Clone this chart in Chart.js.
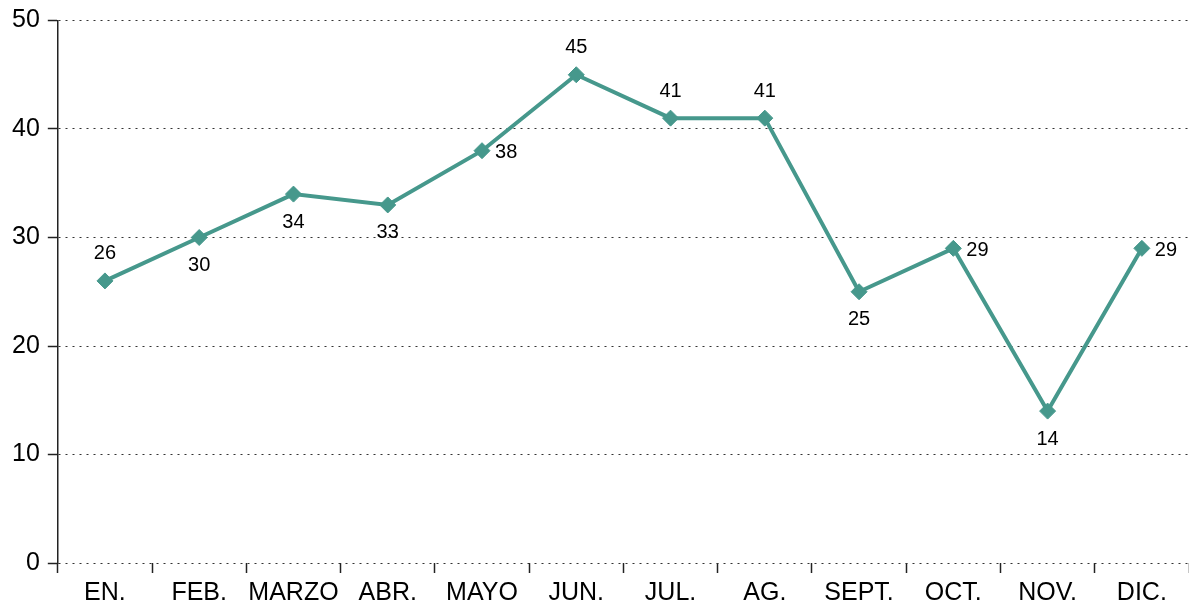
<!DOCTYPE html>
<html lang="es">
<head>
<meta charset="utf-8">
<script src="https://cdn.jsdelivr.net/npm/chart.js@4/dist/chart.umd.min.js"></script>
<style>
  html, body { margin: 0; padding: 0; background: #fff; }
  #wrap { width: 1189px; height: 604px; }
</style>
</head>
<body>
<div id="wrap"><canvas id="lineaMensual"></canvas></div>
<script>
// Datos mensuales
const meses = ['EN.', 'FEB.', 'MARZO', 'ABR.', 'MAYO', 'JUN.', 'JUL.', 'AG.', 'SEPT.', 'OCT.', 'NOV.', 'DIC.'];
const valores = [26, 30, 34, 33, 38, 45, 41, 41, 25, 29, 14, 29];
const ticksY = [0, 10, 20, 30, 40, 50];

// Posición de cada etiqueta respecto al punto
const posEtiqueta = ['top', 'bottom', 'bottom', 'bottom', 'right', 'top', 'top', 'top', 'bottom', 'right', 'bottom', 'right'];

const colorLinea = '#46988c';
const fuente = '"Liberation Sans", Arial, sans-serif';

// Plugin sencillo para escribir el valor junto a cada punto
const etiquetasValor = {
    id: 'etiquetasValor',
    afterDatasetsDraw(chart) {
        const ctx = chart.ctx;
        const meta = chart.getDatasetMeta(0);
        ctx.save();
        ctx.font = '20px ' + fuente;
        ctx.fillStyle = '#000';
        meta.data.forEach((pt, i) => {
            const pos = posEtiqueta[i];
            let x = pt.x, y = pt.y;
            if (pos === 'top') { y -= 27; ctx.textAlign = 'center'; }
            else if (pos === 'bottom') { y += 28; ctx.textAlign = 'center'; }
            else { x += 13; y += 2; ctx.textAlign = 'left'; }
            ctx.textBaseline = 'middle';
            ctx.fillText(String(valores[i]), x, y);
        });
        ctx.restore();
    }
};

const config = {
    type: 'line',
    data: {
        labels: meses,
        datasets: [{
            data: valores,
            borderColor: colorLinea,
            backgroundColor: colorLinea,
            borderWidth: 4,
            pointStyle: 'rectRot',
            pointRadius: 8,
            pointBorderWidth: 1,
            pointBackgroundColor: colorLinea,
            pointBorderColor: colorLinea,
            tension: 0,
            fill: false
        }]
    },
    options: {
        responsive: true,
        maintainAspectRatio: false,
        animation: false,
        layout: {
            autoPadding: false,
            padding: { top: 20, left: 4, right: 0, bottom: -10 }
        },
        plugins: {
            legend: { display: false },
            title: { display: false },
            tooltip: { enabled: false }
        },
        scales: {
            x: {
                offset: true,
                grid: {
                    offset: true,
                    drawOnChartArea: false,
                    drawTicks: true,
                    tickLength: 10,
                    tickColor: '#222',
                    tickWidth: 1.5
                },
                border: { display: false },
                ticks: {
                    color: '#000',
                    padding: 8,
                    maxRotation: 0,
                    autoSkip: false,
                    font: { family: fuente, size: 25, lineHeight: 1 }
                }
            },
            y: {
                min: 0,
                max: 50,
                afterBuildTicks(scale) {
                    scale.ticks = ticksY.map(v => ({ value: v }));
                },
                grid: {
                    color: '#333',
                    lineWidth: 1,
                    drawTicks: true,
                    tickLength: 10,
                    tickColor: '#222',
                    tickWidth: 1.5,
                    tickBorderDash: []
                },
                border: { display: true, color: '#222', width: 1.5, dash: [2, 5] },
                ticks: {
                    color: '#000',
                    padding: 8,
                    font: { family: fuente, size: 25, lineHeight: 1 }
                }
            }
        }
    },
    plugins: [etiquetasValor]
};

document.addEventListener('DOMContentLoaded', function () {
    const ctx = document.getElementById('lineaMensual');
    if (ctx) {
        new Chart(ctx, config);
    }
});
</script>
</body>
</html>
